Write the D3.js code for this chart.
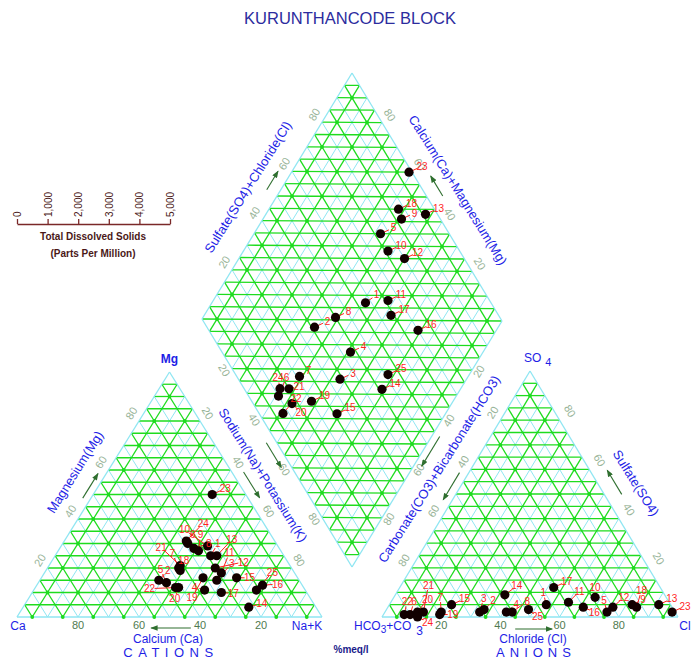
<!DOCTYPE html>
<html>
<head>
<meta charset="utf-8">
<script src="https://cdn.jsdelivr.net/npm/d3@7"></script>
<style>
  body { margin: 0; background: #fff; }
  text { font-family: "Liberation Sans", Arial, sans-serif; }
</style>
</head>
<body>
<svg id="chart" width="693" height="662"></svg>
<script>
// ---- sample data (percent of total meq/l) ----
const sampleIds = [1, 2, 3, 4, 5, 6, 7, 8, 9, 10, 11, 12, 13, 14, 15, 16, 17, 18, 19, 20, 21, 22, 23, 24, 25];
// cations
const calcium   = [24, 46, 27, 33, 44, 29, 37, 28, 27, 23, 24, 25, 22, 22, 20, 13, 28, 37, 31, 41, 36, 42, 11, 29, 16];
const magnesium = [25, 15, 15, 11, 14, 30, 19, 28, 27, 29, 18, 20, 25,  4, 16, 13, 10, 20, 16, 12, 21, 12, 50, 31, 11];
const sodiumPotassium = [51, 39, 58, 56, 42, 41, 44, 44, 46, 48, 58, 55, 53, 74, 64, 74, 62, 43, 53, 47, 43, 46, 39, 40, 73];
// anions
const bicarbonate = [42, 64, 66, 57, 23, 90, 79, 55, 13, 24, 34, 20,  4, 54, 74, 30, 36, 12, 80, 87, 85, 92,  1, 88, 49];
const sulfate     = [ 5,  3,  2,  2,  2,  1,  2,  2,  5,  8,  6,  4,  5,  9,  5,  4, 12,  4,  1,  2,  2,  1,  2,  0,  3];
const chloride    = [53, 33, 32, 41, 75,  9, 19, 43, 82, 68, 60, 76, 91, 37, 21, 66, 52, 84, 19, 11, 13,  7, 97, 12, 48];

const percentTicks = [20, 40, 60, 80];
const tdsTicks = [0, 1000, 2000, 3000, 4000, 5000];

// ---- colours ----
const GREEN = "#1edc1e", CYAN = "#8fe6f2", BLUE = "#1e1ee6", TICK = "#98b498",
      TICK_DARK = "#4f7a4f", RED = "#ff1f1f", ARROW = "#2f6f2f", TDS = "#4a1818";

// label placement (offset of the label centre from its sample point)
const defaultLabelOffset = [13, -6];
const labelOffsets = {
  cation: { 24: [17, -18], 6: [5, -9], 10: [-23, -16], 9: [2, -16], 8: [15, -5], 1: [7, -12],
            13: [15, -16], 11: [8, -20], 21: [-19, -18], 7: [-8, -17], 18: [5, -8], 12: [28, -6],
            3: [15, -17], 5: [-6, -13], 2: [9, -10], 15: [13, 0], 25: [16, -18], 16: [15, -1],
            22: [-26, 1], 4: [-10, -3], 17: [12, 1], 19: [-11, 20], 20: [-4, 11], 14: [13, -4] },
  anion:  { 22: [3, -13], 6: [4, -13], 20: [10, -13], 21: [5, -27], 24: [10, 5], 7: [-1, -15],
            19: [13, 0], 3: [4, -14], 2: [9, -9], 14: [12, -9], 4: [10, -8], 8: [15, -11],
            25: [9, 7], 1: [-3, -12], 11: [11, -11], 10: [0, -10], 5: [-3, -12], 16: [11, 5],
            12: [11, -10], 18: [5, -17], 9: [11, -5] },
  diamond: { 24: [-2, -11], 6: [8, -19], 21: [10, -2], 22: [13, -15], 20: [9, 9], 7: [9, -6], 1: [11, -8] }
};

const svg = d3.select("#chart");
const pct = d3.scaleLinear().domain([0, 100]).range([0, 1]);

// ---- plot frames ----
// each triangle: a = bottom-left, b = bottom-right, c = top
const cationTri = { a: [17, 617], b: [322, 617], c: [169.5, 372] };   // Ca, Na+K, Mg
const anionTri  = { a: [382, 617], b: [678, 617], c: [530, 371] };    // HCO3+CO3, Cl, SO4
const dL = [202, 319], dB = [352, 567], dT = [352, 73];
const dR = [dB[0] + dT[0] - dL[0], dB[1] + dT[1] - dL[1]];

function triPoint(T, ua, ub, uc) {
  return [ua * T.a[0] + ub * T.b[0] + uc * T.c[0], ua * T.a[1] + ub * T.b[1] + uc * T.c[1]];
}
function diaPoint(n, s) {
  return [dL[0] + n * (dB[0] - dL[0]) + s * (dT[0] - dL[0]),
          dL[1] + n * (dB[1] - dL[1]) + s * (dT[1] - dL[1])];
}

const gridLayer = svg.append("g");
function drawSegs(segs, color, width) {
  gridLayer.append("g").selectAll("line").data(segs).join("line")
    .attr("x1", d => d[0][0]).attr("y1", d => d[0][1])
    .attr("x2", d => d[1][0]).attr("y2", d => d[1][1])
    .attr("stroke", color).attr("stroke-width", width);
}
function drawDots(pts) {
  gridLayer.append("g").selectAll("circle").data(pts).join("circle")
    .attr("cx", d => d[0]).attr("cy", d => d[1]).attr("r", 1.9).attr("fill", GREEN);
}

// triangular grid: 5% horizontals, alternating slanted lines, node dots
function triGrid(T) {
  const cyan = [], green = [], dots = [];
  for (let k = 1; k < 20; k++) {
    const t = k / 20;
    green.push([triPoint(T, 1 - t, 0, t), triPoint(T, 0, 1 - t, t)]);
    const s1 = [triPoint(T, t, 1 - t, 0), triPoint(T, t, 0, 1 - t)];
    const s2 = [triPoint(T, 1 - t, t, 0), triPoint(T, 0, t, 1 - t)];
    if (k % 2) green.push(s1, s2); else cyan.push(s1, s2);
  }
  for (let i = 0; i < 10; i++) for (let j = 0; j < 10; j++) {
    const ua = 0.05 + 0.1 * i, ub = 0.05 + 0.1 * j;
    if (ua + ub <= 1 + 1e-9) dots.push(triPoint(T, ua, ub, 1 - ua - ub));
  }
  drawSegs(cyan, CYAN, 1);
  drawSegs(green, GREEN, 1.3);
  drawSegs([[T.a, T.b], [T.b, T.c], [T.c, T.a]], CYAN, 1.3);
  drawDots(dots);
}

function diamondGrid() {
  const cyan = [], green = [], dots = [];
  for (let k = 1; k < 40; k++) {
    const d = k / 20 - 1;
    if (d <= 0) green.push([diaPoint(0, -d), diaPoint(1 + d, 1)]);
    else green.push([diaPoint(d, 0), diaPoint(1, 1 - d)]);
  }
  for (let k = 1; k < 20; k++) {
    const t = k / 20;
    const s1 = [diaPoint(t, 0), diaPoint(t, 1)];
    const s2 = [diaPoint(0, t), diaPoint(1, t)];
    if (k % 2) green.push(s1, s2); else cyan.push(s1, s2);
  }
  for (let i = 0; i < 10; i++) for (let j = 0; j < 10; j++)
    dots.push(diaPoint(0.05 + 0.1 * i, 0.05 + 0.1 * j));
  drawSegs(cyan, CYAN, 1);
  drawSegs(green, GREEN, 1.3);
  drawSegs([[dL, dT], [dT, dR], [dR, dB], [dB, dL]], CYAN, 1.3);
  drawDots(dots);
}

triGrid(cationTri);
triGrid(anionTri);
diamondGrid();

// ---- edge tick labels ----
const tickLayer = svg.append("g").attr("font-size", 11);
function outwardNormal(p0, p1, centroid) {
  const dx = p1[0] - p0[0], dy = p1[1] - p0[1], len = Math.hypot(dx, dy);
  let nx = -dy / len, ny = dx / len;
  const mx = (p0[0] + p1[0]) / 2, my = (p0[1] + p1[1]) / 2;
  if ((mx - centroid[0]) * nx + (my - centroid[1]) * ny < 0) { nx = -nx; ny = -ny; }
  return [nx, ny];
}
function edgeTicks(p0, p1, centroid, dist, lift) {
  const dx = p1[0] - p0[0], dy = p1[1] - p0[1];
  const [nx, ny] = outwardNormal(p0, p1, centroid);
  let ang = Math.atan2(dy, dx) * 180 / Math.PI;
  if (ang > 90) ang -= 180; if (ang <= -90) ang += 180;
  tickLayer.append("g").selectAll("text").data(percentTicks).join("text")
    .attr("transform", v => {
      const f = pct(v);
      const x = p0[0] + f * dx + nx * dist, y = p0[1] + f * dy + ny * dist + lift;
      return `translate(${x},${y}) rotate(${ang})`;
    })
    .attr("text-anchor", "middle").attr("dy", "0.35em").attr("fill", TICK)
    .text(v => v);
}
function baseTicks(p0, p1) {
  tickLayer.append("g").selectAll("text").data(percentTicks).join("text")
    .attr("x", v => p0[0] + pct(v) * (p1[0] - p0[0]))
    .attr("y", p0[1] + 12)
    .attr("text-anchor", "middle").attr("fill", TICK_DARK)
    .text(v => v);
}
const cc = [(cationTri.a[0] + cationTri.b[0] + cationTri.c[0]) / 3, 540];
const ac = [(anionTri.a[0] + anionTri.b[0] + anionTri.c[0]) / 3, 540];
const dc = [(dL[0] + dR[0]) / 2, (dT[1] + dB[1]) / 2];
edgeTicks(cationTri.a, cationTri.c, cc, 9, -3);   // Mg
edgeTicks(cationTri.c, cationTri.b, cc, 9, -3);   // Na+K
baseTicks(cationTri.b, cationTri.a);              // Ca
edgeTicks(anionTri.c, anionTri.a, ac, 9, -3);     // CO3+HCO3
edgeTicks(anionTri.b, anionTri.c, ac, 12, -3);    // SO4
baseTicks(anionTri.a, anionTri.b);                // Cl
edgeTicks(dL, dT, dc, 9, -3);                     // SO4+Cl
edgeTicks(dR, dT, dc, 9, -3);                     // Ca+Mg
edgeTicks(dL, dB, dc, 9, -3);                     // Na+K
edgeTicks(dR, dB, dc, 8, -3);                     // CO3+HCO3

// ---- direction arrows beside the axes ----
svg.append("defs").append("marker")
  .attr("id", "head").attr("viewBox", "0 0 8 6").attr("refX", 7).attr("refY", 3)
  .attr("markerWidth", 7).attr("markerHeight", 5).attr("orient", "auto")
  .append("path").attr("d", "M0,0 L8,3 L0,6 Z").attr("fill", ARROW);
function edgeArrow(p0, p1, centroid, t0, t1, dist) {
  const dx = p1[0] - p0[0], dy = p1[1] - p0[1];
  const [nx, ny] = outwardNormal(p0, p1, centroid);
  svg.append("line")
    .attr("x1", p0[0] + t0 * dx + nx * dist).attr("y1", p0[1] + t0 * dy + ny * dist)
    .attr("x2", p0[0] + t1 * dx + nx * dist).attr("y2", p0[1] + t1 * dy + ny * dist)
    .attr("stroke", ARROW).attr("stroke-width", 1.1).attr("marker-end", "url(#head)");
}
edgeArrow(cationTri.a, cationTri.c, cc, 0.47, 0.57, 7);
edgeArrow(cationTri.c, cationTri.b, cc, 0.43, 0.535, 10);
edgeArrow(cationTri.b, cationTri.a, cc, 0.43, 0.56, 11);
edgeArrow(dL, dB, dc, 0.48, 0.58, 9);
edgeArrow(dL, dT, dc, 0.5, 0.575, 12);
edgeArrow(dR, dT, dc, 0.475, 0.555, 14);
edgeArrow(dR, dB, dc, 0.455, 0.575, 7);
edgeArrow(anionTri.c, anionTri.a, ac, 0.43, 0.54, 8);
edgeArrow(anionTri.b, anionTri.c, ac, 0.467, 0.565, 15);
edgeArrow(anionTri.a, anionTri.b, ac, 0.45, 0.575, 12);

// ---- titles and axis names ----
svg.append("text").attr("x", 350).attr("y", 24).attr("text-anchor", "middle")
  .attr("font-size", 16.5).attr("fill", "#2c2c9e").text("KURUNTHANCODE BLOCK");

const axisNames = [
  { t: "Magnesium(Mg)", x: 75, y: 472, r: -58 },
  { t: "Sodium(Na)+Potassium(K)", x: 263, y: 475, r: 58 },
  { t: "Sulfate(SO4)+Chloride(Cl)", x: 248, y: 187, r: -58 },
  { t: "Calcium(Ca)+Magnesium(Mg)", x: 458, y: 190, r: 58 },
  { t: "Carbonate(CO3)+Bicarbonate(HCO3)", x: 439, y: 469, r: -58 },
  { t: "Sulfate(SO4)", x: 636, y: 483, r: 58 }
];
svg.append("g").selectAll("text").data(axisNames).join("text")
  .attr("transform", d => `translate(${d.x},${d.y}) rotate(${d.r})`)
  .attr("text-anchor", "middle").attr("dy", "0.35em")
  .attr("font-size", 13).attr("fill", BLUE).text(d => d.t);

const lab = svg.append("g").attr("fill", BLUE).attr("font-size", 12);
lab.append("text").attr("x", 169.5).attr("y", 363).attr("text-anchor", "middle").attr("font-weight", "bold").text("Mg");
lab.append("text").attr("x", 18).attr("y", 630).attr("text-anchor", "middle").text("Ca");
lab.append("text").attr("x", 307).attr("y", 630).attr("text-anchor", "middle").text("Na+K");
lab.append("text").attr("x", 168).attr("y", 643).attr("text-anchor", "middle").text("Calcium (Ca)");
lab.append("text").attr("x", 171).attr("y", 657).attr("text-anchor", "middle")
  .attr("font-size", 13).attr("letter-spacing", "5.5px").text("CATIONS");
lab.append("text").attr("x", 533).attr("y", 643).attr("text-anchor", "middle").text("Chloride (Cl)");
lab.append("text").attr("x", 536).attr("y", 657).attr("text-anchor", "middle")
  .attr("font-size", 13).attr("letter-spacing", "5px").text("ANIONS");
lab.append("text").attr("x", 685).attr("y", 630).attr("text-anchor", "middle").text("Cl");
const hco = lab.append("text").attr("x", 354).attr("y", 630);
hco.append("tspan").text("HCO");
hco.append("tspan").attr("dy", 3).attr("font-size", 10).text("3");
hco.append("tspan").attr("dy", -3).text("+CO");
hco.append("tspan").attr("dy", 5).attr("dx", 5).text("3");
const so = lab.append("text").attr("x", 524).attr("y", 362);
so.append("tspan").text("SO");
so.append("tspan").attr("dy", 4).attr("dx", 4).attr("font-size", 11).text("4");
svg.append("text").attr("x", 351).attr("y", 653).attr("text-anchor", "middle")
  .attr("font-size", 10).attr("font-weight", "bold").attr("fill", "#1a1a8a").text("%meq/l");

// ---- TDS scale ----
const tdsScale = d3.scaleLinear().domain([0, 5000]).range([17, 170]);
const tdsAxis = svg.append("g").attr("transform", "translate(0,224)")
  .call(d3.axisTop(tdsScale).tickValues(tdsTicks).tickSize(5).tickSizeOuter(0).tickFormat(d3.format(",")));
tdsAxis.select(".domain").attr("stroke", "#7a2828").attr("stroke-width", 1.3);
tdsAxis.selectAll(".tick line").attr("stroke", "#7a2828").attr("stroke-width", 1.3);
tdsAxis.selectAll(".tick text")
  .attr("transform", "rotate(-90)").attr("x", 7).attr("y", 0).attr("dy", "0.35em")
  .attr("text-anchor", "start").attr("fill", TDS).attr("font-size", 10)
  .attr("font-family", "\"Liberation Sans\", Arial, sans-serif");
svg.append("text").attr("x", 93).attr("y", 240).attr("text-anchor", "middle")
  .attr("font-size", 10).attr("font-weight", "bold").attr("fill", TDS).text("Total Dissolved Solids");
svg.append("text").attr("x", 93).attr("y", 257).attr("text-anchor", "middle")
  .attr("font-size", 10).attr("font-weight", "bold").attr("fill", TDS).text("(Parts Per Million)");

// ---- samples ----
const samples = sampleIds.map((id, i) => {
  const cTot = calcium[i] + magnesium[i] + sodiumPotassium[i];
  const aTot = bicarbonate[i] + sulfate[i] + chloride[i];
  const ca = calcium[i] / cTot, mg = magnesium[i] / cTot, nak = sodiumPotassium[i] / cTot;
  const hc = bicarbonate[i] / aTot, so4 = sulfate[i] / aTot, cl = chloride[i] / aTot;
  return {
    id,
    cation: triPoint(cationTri, ca, nak, mg),
    anion: triPoint(anionTri, hc, cl, so4),
    diamond: diaPoint(nak, so4 + cl)
  };
});
const positions = [];
samples.forEach(s => ["cation", "anion", "diamond"].forEach(k => {
  const off = labelOffsets[k][s.id] || defaultLabelOffset;
  const len = Math.hypot(off[0], off[1]);
  const f = Math.max(0, 1 - 5 / len);
  positions.push({ id: s.id, p: s[k], off, lead: [off[0] * f, off[1] * f] });
}));

const markLayer = svg.append("g");
markLayer.selectAll("line").data(positions).join("line")
  .attr("x1", d => d.p[0]).attr("y1", d => d.p[1])
  .attr("x2", d => d.p[0] + d.lead[0]).attr("y2", d => d.p[1] + d.lead[1])
  .attr("stroke", RED).attr("stroke-width", 1);
markLayer.selectAll("circle").data(positions).join("circle")
  .attr("cx", d => d.p[0]).attr("cy", d => d.p[1]).attr("r", 4.6)
  .attr("fill", "#120000");
markLayer.selectAll("text").data(positions).join("text")
  .attr("x", d => d.p[0] + d.off[0]).attr("y", d => d.p[1] + d.off[1])
  .attr("dy", "0.35em").attr("text-anchor", "middle")
  .attr("font-size", 10).attr("fill", RED).text(d => d.id);
</script>
</body>
</html>
